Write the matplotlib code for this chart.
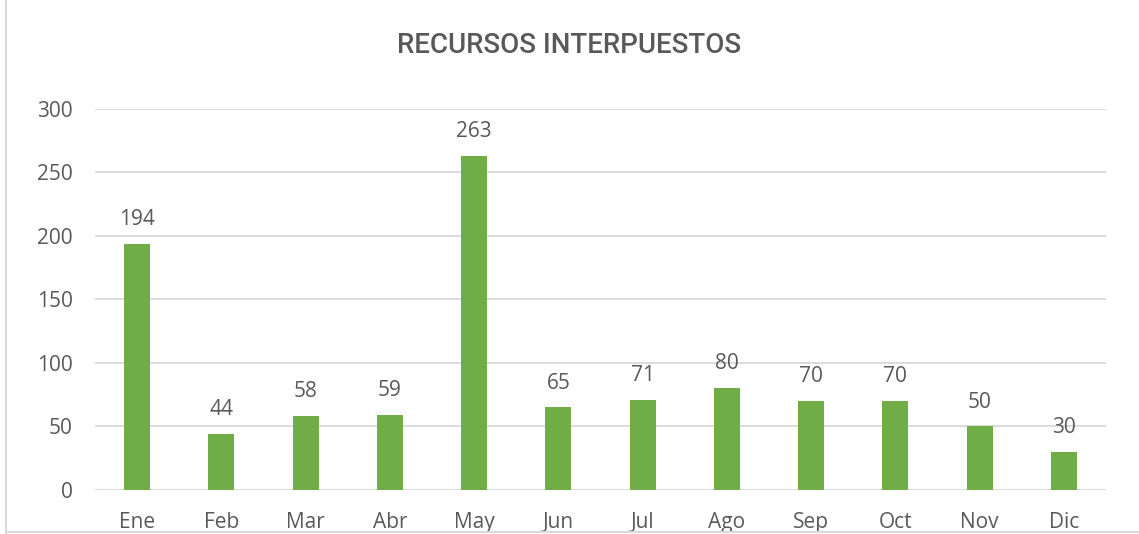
import matplotlib.pyplot as plt
import numpy as np

meses = ['Ene', 'Feb', 'Mar', 'Abr', 'May', 'Jun', 'Jul', 'Ago', 'Sep', 'Oct', 'Nov', 'Dic']
recursos = [194, 44, 58, 59, 263, 65, 71, 80, 70, 70, 50, 30]

gris = '#595959'

fig = plt.figure(figsize=(11.39, 5.34), dpi=100)
ax = fig.add_axes([0.0834, 0.0824, 0.8876, 0.7136])

x = np.arange(len(meses))
ax.bar(x, recursos, width=0.31, color='#70AD47', zorder=3)

for xi, v in zip(x, recursos):
    ax.annotate(str(v), (xi, v), xytext=(0, 10), textcoords='offset points',
                ha='center', va='bottom', fontsize=15, color=gris, family='Open Sans')

ax.set_xlim(-0.5, len(meses) - 0.5)
ax.set_ylim(0, 300)
ax.set_yticks(range(0, 301, 50))
ax.set_xticks(x)
ax.set_xticklabels(meses)
ax.yaxis.grid(True, color='#D9D9D9', linewidth=1.3, zorder=0)
for s in ax.spines.values():
    s.set_visible(False)
ax.tick_params(length=0, labelsize=15, labelcolor=gris)
ax.tick_params(axis='y', pad=16)
ax.tick_params(axis='x', pad=16)
for lab in ax.get_xticklabels() + ax.get_yticklabels():
    lab.set_family('Open Sans')

fig.text(0.5, 0.915, 'RECURSOS INTERPUESTOS', ha='center', va='center',
         fontsize=20, color=gris, family='Roboto', fontweight='medium')

# borde del cuadro del grafico
fig.add_artist(plt.Line2D([0.005, 0.005], [0, 1], color='#D9D9D9', lw=1.5))
fig.add_artist(plt.Line2D([0.005, 1], [0.003, 0.003], color='#D9D9D9', lw=1.5))

fig.savefig('out.png', dpi=100)
